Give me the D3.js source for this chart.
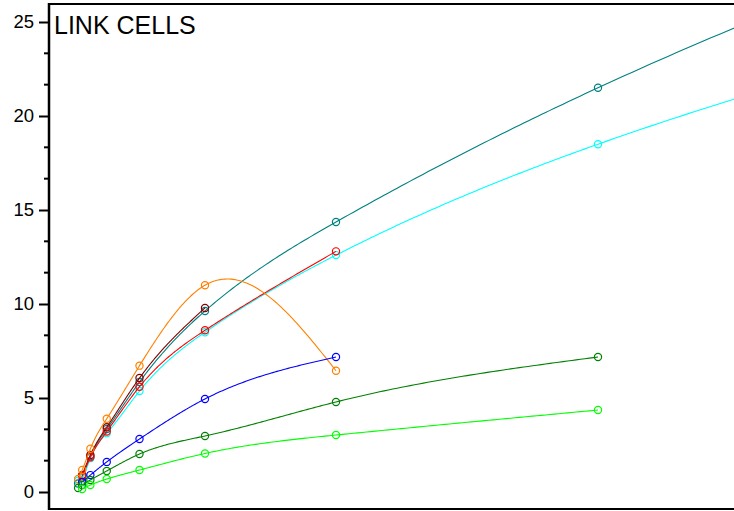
<!DOCTYPE html>
<html><head><meta charset="utf-8">
<script src="https://cdn.jsdelivr.net/npm/d3@7"></script>
<style>body{margin:0;background:#fff}svg{display:block}</style>
</head><body>
<svg id="c" width="734" height="511"></svg>
<script>
const title = "LINK CELLS";
const yTicks = [0, 5, 10, 15, 20, 25];
const xs = [1, 2, 4, 8, 16, 32, 64, 128, 256];
const seriesNames = ["cyan","teal","maroon","red","orange","blue","darkgreen","green"];
const seriesColors = ["#00ffff","#008080","#800000","#ff0000","#ff8000","#0000ff","#008000","#00ff00"];
const cyanY   = [0.6, 0.75, 1.8, 3.13, 5.37, 8.5, 12.6, 18.5, 26.5];
const tealY   = [0.45, 0.85, 1.9, 3.35, 5.85, 9.63, 14.36, 21.5, 32.6];
const maroonY = [null, 0.9, 1.97, 3.45, 6.06, 9.79];
const redY    = [null, 0.85, 1.85, 3.22, 5.6, 8.6, 12.8];
const orangeY = [0.69, 1.17, 2.3, 3.9, 6.72, 11.0, 6.45];
const blueY   = [null, 0.53, 0.9, 1.6, 2.82, 4.95, 7.18];
const dkGreenY= [0.21, 0.37, 0.64, 1.12, 2.02, 2.98, 4.79, 7.18];
const greenY  = [null, 0.16, 0.37, 0.69, 1.17, 2.05, 3.03, 4.36];
const allY = [cyanY, tealY, maroonY, redY, orangeY, blueY, dkGreenY, greenY];

// natural cubic spline y(x) through the data points, sampled for drawing
function naturalSpline(pts) {
  const n = pts.length;
  if (n < 3) return pts;
  const X = pts.map(d => d[0]), Y = pts.map(d => d[1]);
  const h = [], a = new Array(n).fill(0), b = new Array(n).fill(0), c = new Array(n).fill(0), r = new Array(n).fill(0);
  for (let i = 0; i < n - 1; i++) h.push(X[i+1] - X[i]);
  b[0] = 1; b[n-1] = 1;
  for (let i = 1; i < n - 1; i++) {
    a[i] = h[i-1]; b[i] = 2 * (h[i-1] + h[i]); c[i] = h[i];
    r[i] = 6 * ((Y[i+1] - Y[i]) / h[i] - (Y[i] - Y[i-1]) / h[i-1]);
  }
  const cp = new Array(n).fill(0), rp = new Array(n).fill(0), M = new Array(n).fill(0);
  cp[0] = c[0] / b[0]; rp[0] = r[0] / b[0];
  for (let i = 1; i < n; i++) {
    const m = b[i] - a[i] * cp[i-1];
    cp[i] = c[i] / m; rp[i] = (r[i] - a[i] * rp[i-1]) / m;
  }
  M[n-1] = rp[n-1];
  for (let i = n - 2; i >= 0; i--) M[i] = rp[i] - cp[i] * M[i+1];
  const out = [];
  for (let i = 0; i < n - 1; i++) {
    const steps = 60;
    for (let s = 0; s < steps; s++) {
      const t = X[i] + h[i] * s / steps;
      const A = (X[i+1] - t) / h[i], B = (t - X[i]) / h[i];
      const v = A * Y[i] + B * Y[i+1] + ((A*A*A - A) * M[i] + (B*B*B - B) * M[i+1]) * h[i] * h[i] / 6;
      out.push([t, v]);
    }
  }
  out.push(pts[n-1]);
  return out;
}

(function(){
const svg = d3.select("#c");
const mLeft = 49, mTop = 4, mBottom = 509;
const x = d3.scaleLinear().domain([0, 128]).range([74, 598]);
const y = d3.scaleLinear().domain([0, 25]).range([492, 22]);

svg.append("clipPath").attr("id","pc").append("rect")
  .attr("x", mLeft).attr("y", mTop).attr("width", 734 - mLeft).attr("height", mBottom - mTop);

const g = svg.append("g").attr("clip-path","url(#pc)");
const line = d3.line().x(d => x(d[0])).y(d => y(d[1]));

allY.forEach((vals, i) => {
  const pts = vals.map((v, j) => [xs[j], v]).filter(d => d[1] != null);
  g.append("path").attr("d", line(naturalSpline(pts))).attr("fill","none")
    .attr("stroke", seriesColors[i]).attr("stroke-width", 1.1);
  g.selectAll(null).data(pts).enter().append("circle")
    .attr("cx", d => x(d[0])).attr("cy", d => y(d[1])).attr("r", 3.6)
    .attr("fill","none").attr("stroke", seriesColors[i]).attr("stroke-width", 1.2);
});

svg.append("line").attr("x1", mLeft).attr("x2", 734).attr("y1", mTop).attr("y2", mTop)
  .attr("stroke","#000").attr("stroke-width",2);
svg.append("line").attr("x1", mLeft).attr("x2", 734).attr("y1", mBottom).attr("y2", mBottom)
  .attr("stroke","#000").attr("stroke-width",2);

const minor = d3.range(0, 26, 5/3).filter(v => Math.abs(v/5 - Math.round(v/5)) > 0.01);
const yAxis = d3.axisLeft(y).tickValues(yTicks).tickSize(10).tickPadding(5).tickSizeOuter(0);
const ax = svg.append("g").attr("transform", `translate(${mLeft},0)`).call(yAxis);
ax.select(".domain").remove();
ax.selectAll(".tick line").attr("stroke","#000").attr("stroke-width",2);
ax.selectAll(".tick text").attr("font-family","Liberation Sans, Arial, sans-serif")
  .attr("font-size", 18.5).attr("fill","#000");
svg.append("g").selectAll("line").data(minor).enter().append("line")
  .attr("x1", mLeft - 5).attr("x2", mLeft).attr("y1", d => y(d)).attr("y2", d => y(d))
  .attr("stroke","#000").attr("stroke-width",2);
svg.append("line").attr("x1", mLeft).attr("x2", mLeft).attr("y1", mTop - 1).attr("y2", mBottom + 1)
  .attr("stroke","#000").attr("stroke-width",2.5);

svg.append("text").attr("x", 54).attr("y", 34).text(title)
  .attr("font-family","Liberation Sans, Arial, sans-serif").attr("font-size", 25).attr("fill","#000");
})();
</script>
</body></html>
